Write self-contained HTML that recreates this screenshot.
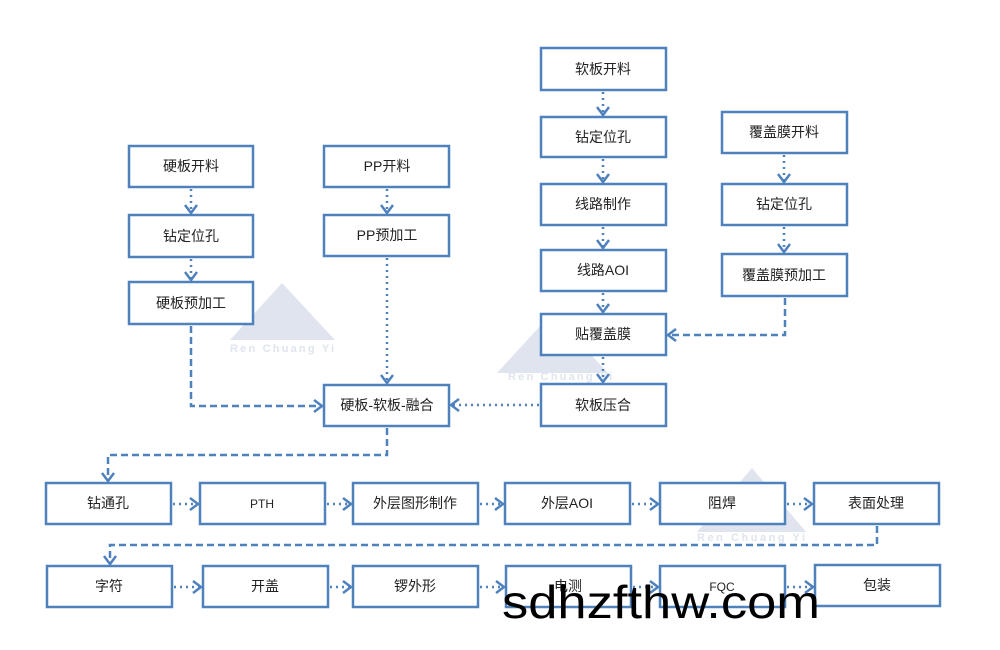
<!DOCTYPE html>
<html><head><meta charset="utf-8"><style>
html,body{margin:0;padding:0;background:#fff;}
svg{display:block;}
text{font-family:"Liberation Sans","Noto Sans CJK SC",sans-serif;font-size:14px;fill:#222;}
</style></head><body>
<svg width="1000" height="650" viewBox="0 0 1000 650" xmlns="http://www.w3.org/2000/svg">
<defs>
<marker id="a" markerUnits="userSpaceOnUse" markerWidth="16" markerHeight="16" refX="11" refY="8" orient="auto">
<path d="M3,2 L11,8 L3,14" fill="none" stroke="#4f81bd" stroke-width="2.5"/>
</marker>
</defs>
<g fill="#dfe4ee">
<polygon points="282,283 335,340 230,340"/>
<polygon points="552,313 608,373 497,373"/>
<polygon points="752,468 806,532 697,532"/>
</g>
<text x="230" y="352" textLength="104" style="fill:#dfe4ee;font-size:11px;font-weight:bold">Ren Chuang Yi</text>
<text x="508" y="380" textLength="104" style="fill:#dfe4ee;font-size:11px;font-weight:bold">Ren Chuang Yi</text>
<text x="697" y="541" textLength="108" style="fill:#dfe4ee;font-size:11px;font-weight:bold">Ren Chuang Yi</text>
<g fill="#fff" stroke="#4f81bd" stroke-width="2.5">
<rect x="129" y="146" width="124" height="41"/>
<rect x="129" y="215" width="124" height="42"/>
<rect x="129" y="282" width="124" height="42"/>
<rect x="324" y="146" width="125" height="41"/>
<rect x="324" y="215" width="125" height="41"/>
<rect x="541" y="48" width="125" height="42"/>
<rect x="541" y="117" width="125" height="40"/>
<rect x="541" y="184" width="125" height="41"/>
<rect x="541" y="250" width="125" height="41"/>
<rect x="541" y="314" width="125" height="41"/>
<rect x="541" y="384" width="125" height="42"/>
<rect x="722" y="112" width="125" height="41"/>
<rect x="722" y="184" width="125" height="41"/>
<rect x="722" y="254" width="125" height="42"/>
<rect x="324" y="385" width="125" height="41"/>
<rect x="46" y="483" width="125" height="41"/>
<rect x="200" y="483" width="125" height="41"/>
<rect x="353" y="483" width="125" height="41"/>
<rect x="505" y="483" width="125" height="41"/>
<rect x="660" y="483" width="125" height="41"/>
<rect x="814" y="483" width="125" height="41"/>
<rect x="47" y="566" width="125" height="41"/>
<rect x="203" y="566" width="125" height="41"/>
<rect x="353" y="566" width="125" height="41"/>
<rect x="506" y="566" width="125" height="41"/>
<rect x="660" y="566" width="125" height="41"/>
<rect x="815" y="565" width="125" height="41"/>
</g>
<g fill="none" stroke="#4f81bd" stroke-width="2.5" stroke-dasharray="2 4" marker-end="url(#a)">
<path d="M191,189 V213"/>
<path d="M191,259 V280"/>
<path d="M387,189 V213"/>
<path d="M387,258 V383"/>
<path d="M603,92 V115"/>
<path d="M603,159 V182"/>
<path d="M603,227 V248"/>
<path d="M603,293 V312"/>
<path d="M603,357 V382"/>
<path d="M784,155 V182"/>
<path d="M784,227 V252"/>
<path d="M539,405 H451"/>
<path d="M173,504 H198"/><path d="M327,504 H351"/><path d="M480,504 H503"/><path d="M632,504 H658"/><path d="M787,504 H812"/>
<path d="M174,587 H201"/><path d="M330,587 H351"/><path d="M480,587 H504"/><path d="M633,587 H658"/><path d="M787,587 H813"/>
</g>
<g fill="none" stroke="#4f81bd" stroke-width="2.5" stroke-dasharray="7 4" marker-end="url(#a)">
<path d="M191,326 V406 H322"/>
<path d="M785,298 V335 H668"/>
<path d="M387,428 V455 H108 V481"/>
<path d="M877,526 V545 H110 V564"/>
</g>
<g text-anchor="middle">
<text x="191" y="171">硬板开料</text>
<text x="191" y="241">钻定位孔</text>
<text x="191" y="308">硬板预加工</text>
<text x="387" y="171">PP开料</text>
<text x="387" y="240">PP预加工</text>
<text x="603" y="74">软板开料</text>
<text x="603" y="142">钻定位孔</text>
<text x="603" y="209">线路制作</text>
<text x="603" y="275">线路AOI</text>
<text x="603" y="339">贴覆盖膜</text>
<text x="603" y="410">软板压合</text>
<text x="784" y="137">覆盖膜开料</text>
<text x="784" y="209">钻定位孔</text>
<text x="784" y="280">覆盖膜预加工</text>
<text x="387" y="410">硬板-软板-融合</text>
<text x="108" y="508">钻通孔</text>
<text x="262" y="508" style="font-size:12px">PTH</text>
<text x="415" y="508">外层图形制作</text>
<text x="567" y="508">外层AOI</text>
<text x="722" y="508">阻焊</text>
<text x="876" y="508">表面处理</text>
<text x="109" y="591">字符</text>
<text x="265" y="591">开盖</text>
<text x="415" y="591">锣外形</text>
<text x="568" y="591">电测</text>
<text x="722" y="591" style="font-size:12px">FQC</text>
<text x="877" y="590">包装</text>
</g>
<text x="502" y="618" textLength="318" lengthAdjust="spacingAndGlyphs" style="font-size:46px;fill:#000;font-family:'Liberation Sans',sans-serif">sdhzfthw.com</text>
</svg>
</body></html>
